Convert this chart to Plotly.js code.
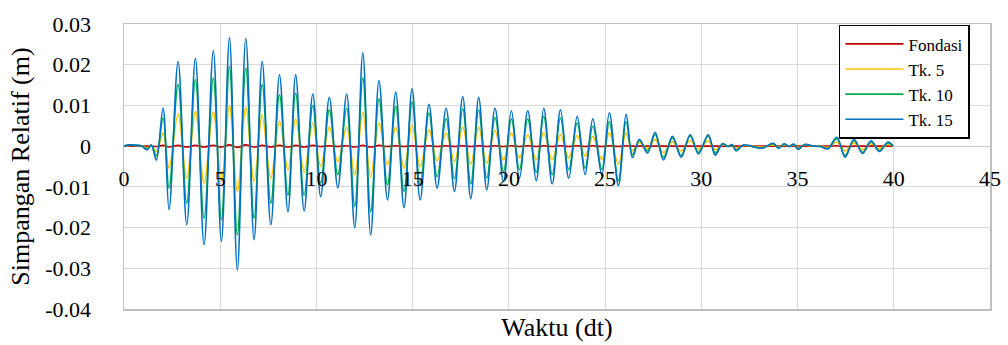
<!DOCTYPE html>
<html>
<head>
<meta charset="utf-8">
<script src="https://cdn.plot.ly/plotly-3.0.1.min.js"></script>
<style>
  html, body { margin: 0; padding: 0; background: #ffffff; }
  #chart { width: 1008px; height: 345px; }
</style>
</head>
<body>
<div id="chart"></div>
<script>
// Time (s) of each read-off point (extrema of the response)
const waktu = [
  0, 0.3, 0.6, 0.9, 1.2, 1.42, 1.68, 2.03, 2.34, 2.81,
  3.26, 3.71, 4.16, 4.64, 5.06, 5.48, 5.89, 6.33, 6.76, 7.18,
  7.63, 8.08, 8.52, 8.92, 9.36, 9.81, 10.22, 10.67, 11.11, 11.57,
  11.99, 12.41, 12.82, 13.25, 13.69, 14.12, 14.55, 14.97, 15.39, 15.85,
  16.27, 16.74, 17.17, 17.6, 18.02, 18.43, 18.85, 19.28, 19.72, 20.13,
  20.55, 20.98, 21.42, 21.81, 22.25, 22.68, 23.11, 23.55, 23.96, 24.36,
  24.83, 25.22, 25.69, 26.09, 26.42, 26.78, 27.2, 27.6, 28.03, 28.5,
  28.95, 29.42, 29.85, 30.36, 30.72, 31.1, 31.4, 31.6, 31.81, 32.15,
  32.45, 32.75, 33.2, 33.73, 34.02, 34.3, 34.56, 34.8, 35.04, 35.35,
  35.85, 36.2, 36.57, 37.04, 37.47, 37.93, 38.38, 38.82, 39.25, 39.7,
  39.96
];

const fondasi = [
  0, 0, 0, 0, 0, 0, -0.0001, 0.0002, -0.0002, 0.0002,
  -0.0002, 0.0002, -0.0002, 0.0002, -0.0002, 0.0003, -0.0003, 0.0003, -0.0002, 0.0002,
  -0.0002, 0.0002, -0.0002, 0.0002, -0.0002, 0.0002, -0.0001, 0.0001, -0.0001, 0.0001,
  -0.0002, 0.0002, -0.0002, 0.0002, -0.0001, 0.0001, -0.0001, 0.0001, -0.0001, 0.0001,
  -0.0001, 0.0001, -0.0001, 0.0001, -0.0001, 0.0001, -0.0001, 0.0001, -0.0001, 0.0001,
  -0.0001, 0.0001, -0.0001, 0.0001, -0.0001, 0.0001, -0.0001, 0.0001, -0.0001, 0.0001,
  -0.0001, 0.0001, -0.0001, 0.0001, 0, 0, 0, 0, 0, 0,
  0, 0, 0, 0, 0, 0, 0, 0, 0, 0,
  0, 0, 0, 0, 0, 0, 0, 0, 0, 0,
  0, 0, 0, 0.0001, -0.0001, 0, 0, 0, 0, 0,
  0
];

const tk5 = [
  0, 0.0002, 0.0001, 0.0001, -0.0004, 0.0001, -0.0013, 0.0032, -0.0054, 0.0079,
  -0.0079, 0.0085, -0.0091, 0.0084, -0.0086, 0.0100, -0.0111, 0.0095, -0.0087, 0.0075,
  -0.0079, 0.0061, -0.0058, 0.0067, -0.0064, 0.0057, -0.0050, 0.0046, -0.0038, 0.0046,
  -0.0070, 0.0084, -0.0075, 0.0057, -0.0046, 0.0046, -0.0054, 0.0052, -0.0050, 0.0040,
  -0.0036, 0.0032, -0.0038, 0.0046, -0.0044, 0.0046, -0.0042, 0.0038, -0.0034, 0.0032,
  -0.0029, 0.0028, -0.0034, 0.0034, -0.0034, 0.0029, -0.0029, 0.0026, -0.0025, 0.0024,
  -0.0033, 0.0033, -0.0045, 0.0032, -0.0011, 0.0009, -0.0006, 0.0016, -0.0016, 0.0011,
  -0.0012, 0.0014, -0.0008, 0.0013, -0.0009, 0.0003, 0.0000, 0.0002, -0.0005, 0.0001,
  0.0001, -0.0001, -0.0002, 0.0003, -0.0002, 0.0003, 0.0000, 0.0002, -0.0003, 0.0002,
  0.0000, 0.0000, -0.0003, 0.0010, -0.0012, 0.0008, -0.0009, 0.0006, -0.0006, 0.0005,
  0
];

const tk10 = [
  0, 0.0003, 0.0002, 0.0001, -0.0007, 0.0002, -0.0024, 0.0069, -0.0103, 0.0151,
  -0.0140, 0.0163, -0.0177, 0.0167, -0.0181, 0.0196, -0.0218, 0.0192, -0.0177, 0.0151,
  -0.0140, 0.0126, -0.0120, 0.0130, -0.0120, 0.0100, -0.0091, 0.0089, -0.0070, 0.0093,
  -0.0148, 0.0167, -0.0161, 0.0116, -0.0095, 0.0097, -0.0111, 0.0108, -0.0095, 0.0081,
  -0.0075, 0.0067, -0.0080, 0.0092, -0.0093, 0.0089, -0.0079, 0.0070, -0.0062, 0.0067,
  -0.0058, 0.0067, -0.0064, 0.0073, -0.0070, 0.0069, -0.0058, 0.0057, -0.0054, 0.0049,
  -0.0057, 0.0060, -0.0085, 0.0060, -0.0021, 0.0014, -0.0012, 0.0029, -0.0028, 0.0020,
  -0.0023, 0.0025, -0.0015, 0.0025, -0.0017, 0.0005, -0.0001, 0.0003, -0.0010, 0.0002,
  0.0001, -0.0002, -0.0004, 0.0006, -0.0004, 0.0005, -0.0001, 0.0004, -0.0006, 0.0003,
  0.0000, -0.0001, -0.0006, 0.0018, -0.0023, 0.0014, -0.0015, 0.0011, -0.0011, 0.0008,
  0
];

const tk15 = [
  0, 0.0003, 0.0002, 0.0001, -0.0009, 0.0003, -0.0034, 0.0093, -0.0156, 0.0208,
  -0.0193, 0.0216, -0.0242, 0.0234, -0.0234, 0.0267, -0.0304, 0.0265, -0.0230, 0.0208,
  -0.0193, 0.0175, -0.0161, 0.0175, -0.0159, 0.0128, -0.0124, 0.0120, -0.0102, 0.0128,
  -0.0200, 0.0229, -0.0218, 0.0161, -0.0132, 0.0133, -0.0151, 0.0141, -0.0132, 0.0103,
  -0.0103, 0.0093, -0.0111, 0.0122, -0.0129, 0.0120, -0.0107, 0.0093, -0.0087, 0.0087,
  -0.0079, 0.0087, -0.0085, 0.0093, -0.0093, 0.0089, -0.0079, 0.0073, -0.0070, 0.0067,
  -0.0071, 0.0082, -0.0097, 0.0078, -0.0028, 0.0017, -0.0017, 0.0034, -0.0034, 0.0024,
  -0.0027, 0.0028, -0.0019, 0.0028, -0.0022, 0.0006, -0.0001, 0.0004, -0.0012, 0.0002,
  0.0002, -0.0002, -0.0005, 0.0007, -0.0005, 0.0006, -0.0001, 0.0005, -0.0008, 0.0004,
  0.0000, -0.0001, -0.0007, 0.0022, -0.0027, 0.0017, -0.0018, 0.0013, -0.0013, 0.0010,
  0
];

const seriesNames = ['Fondasi', 'Tk. 5', 'Tk. 10', 'Tk. 15'];
const seriesColors = ['#C00000', '#FFC000', '#00B050', '#0070C0'];

const xTickVals = [0, 5, 10, 15, 20, 25, 30, 35, 40, 45];
const yTickVals = [-0.04, -0.03, -0.02, -0.01, 0, 0.01, 0.02, 0.03];
const yTickText = ['-0.04', '-0.03', '-0.02', '-0.01', '0', '0.01', '0.02', '0.03'];

const seriesValues = [fondasi, tk5, tk10, tk15];
const FONT = 'Liberation Serif';

const traces = seriesValues.map((vals, i) => ({
  type: 'scatter',
  mode: 'lines',
  name: seriesNames[i],
  x: waktu,
  y: vals,
  line: { color: seriesColors[i], width: 1.6, shape: 'spline', smoothing: 1 },
  hoverinfo: 'skip'
}));

const layout = {
  width: 1008,
  height: 345,
  margin: { l: 124, r: 18, t: 24, b: 36 },
  paper_bgcolor: '#ffffff',
  plot_bgcolor: '#ffffff',
  font: { family: FONT, color: '#000000', size: 21 },
  showlegend: true,
  legend: {
    x: 0.8256, y: 0.997, xanchor: 'left', yanchor: 'top',
    bgcolor: '#ffffff', bordercolor: '#000000', borderwidth: 1.5,
    font: { family: FONT, size: 17, color: '#000000' },
    itemwidth: 58,
    tracegroupgap: 0
  },
  xaxis: {
    range: [0, 45],
    tickvals: xTickVals,
    showticklabels: false,
    ticks: '',
    showgrid: true,
    gridcolor: '#d9d9d9',
    gridwidth: 1,
    zeroline: false,
    showline: true,
    linecolor: '#bfbfbf',
    linewidth: 1.5,
    mirror: true,
    title: { text: 'Waktu (dt)', font: { family: FONT, size: 26 }, standoff: 8 }
  },
  xaxis2: {
    overlaying: 'x',
    anchor: 'free',
    position: 4 / 7,
    side: 'bottom',
    range: [0, 45],
    tickvals: xTickVals,
    showgrid: false,
    zeroline: false,
    showline: false,
    ticks: '',
    ticklabelstandoff: 17,
    tickfont: { family: FONT, size: 22 }
  },
  yaxis: {
    range: [-0.04, 0.03],
    tickvals: yTickVals,
    ticktext: yTickText,
    ticks: '',
    ticklabelstandoff: 27,
    tickfont: { family: FONT, size: 22 },
    showgrid: true,
    gridcolor: '#d9d9d9',
    gridwidth: 1,
    zeroline: true,
    zerolinecolor: '#c8c8c8',
    zerolinewidth: 1.2,
    showline: true,
    linecolor: '#bfbfbf',
    linewidth: 1.5,
    mirror: true,
    title: { text: 'Simpangan Relatif (m)', font: { family: FONT, size: 26 }, standoff: 8 }
  }
};

// invisible helper trace so that the second x-axis (labels along y = 0) is drawn
traces.push({
  type: 'scatter', mode: 'lines', x: [0, 45], y: [0, 0], xaxis: 'x2', yaxis: 'y',
  line: { width: 0, color: 'rgba(0,0,0,0)' }, showlegend: false, hoverinfo: 'skip'
});

Plotly.newPlot('chart', traces, layout, { staticPlot: true, displayModeBar: false });
</script>
</body>
</html>
